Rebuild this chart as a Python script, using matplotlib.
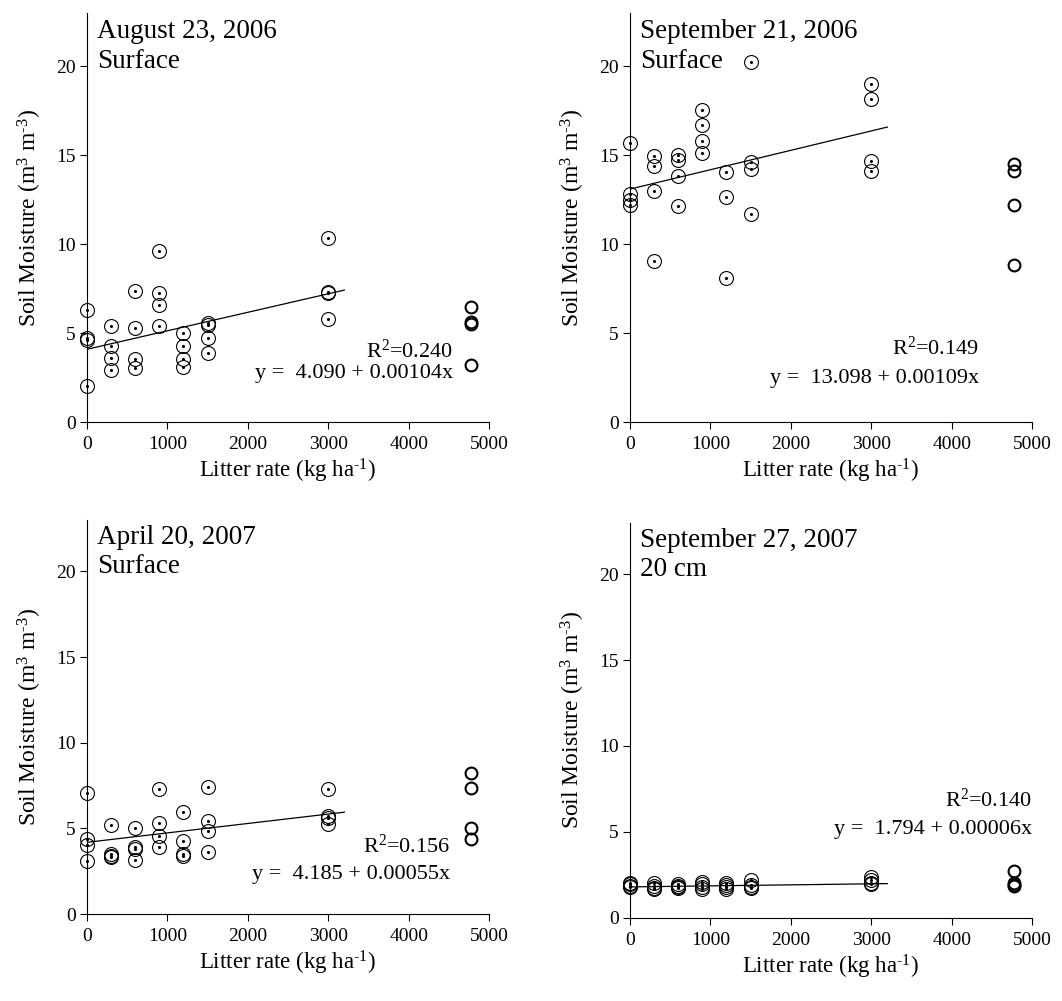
import numpy as np
import matplotlib
matplotlib.use("Agg")
import matplotlib.pyplot as plt

plt.rcParams['font.family'] = ['Liberation Serif', 'DejaVu Serif']
plt.rcParams['mathtext.fontset'] = 'custom'
plt.rcParams['mathtext.rm'] = 'Liberation Serif'
plt.rcParams['mathtext.it'] = 'Liberation Serif:italic'

# litter rates (kg/ha); the last rate is plotted as open circles
rates = [0, 300, 600, 900, 1200, 1500, 3000]
high_rate = 4770

# panel 1: August 23, 2006, surface
aug06 = [
    [6.3, 4.7, 4.6, 2.0],
    [5.4, 4.28, 3.59, 2.93],
    [7.36, 5.27, 3.53, 3.03],
    [9.61, 7.27, 6.58, 5.4],
    [4.99, 4.28, 3.53, 3.07],
    [5.55, 5.45, 4.75, 3.9],
    [10.36, 7.3, 7.25, 5.79],
]
aug06_high = [6.45, 5.64, 5.5, 3.21]

# panel 2: September 21, 2006, surface
sep06 = [
    [15.7, 12.8, 12.5, 12.2],
    [14.95, 14.39, 12.99, 9.05],
    [14.99, 14.71, 13.83, 12.15],
    [17.53, 16.69, 15.79, 15.12],
    [14.07, 12.65, 8.11],
    [20.26, 14.65, 14.24, 11.7],
    [19.03, 18.17, 14.67, 14.11],
]
sep06_high = [14.49, 14.11, 12.19, 8.82]

# panel 3: April 20, 2007, surface
apr07 = [
    [7.09, 4.37, 4.0, 3.07],
    [5.2, 3.5, 3.4, 3.35],
    [5.03, 3.94, 3.81, 3.17],
    [7.3, 5.3, 4.56, 3.94],
    [5.96, 4.27, 3.5, 3.36],
    [7.42, 5.42, 4.82, 3.61],
    [7.32, 5.73, 5.59, 5.26],
]
apr07_high = [8.21, 7.38, 5.05, 4.37]

# panel 4: September 27, 2007, 20 cm
sep07 = [
    [2.05, 1.95, 1.85, 1.8],
    [2.0, 1.85, 1.75, 1.65],
    [1.95, 1.85, 1.8, 1.75],
    [2.1, 1.95, 1.8, 1.7],
    [2.05, 1.9, 1.8, 1.7],
    [2.2, 1.9, 1.8, 1.75],
    [2.35, 2.2, 2.05, 1.95],
]
sep07_high = [2.7, 2.0, 1.9, 1.85]

titles = [("August 23, 2006", "Surface"), ("September 21, 2006", "Surface"),
          ("April 20, 2007", "Surface"), ("September 27, 2007", "20 cm")]
fits = [(4.090, 0.00104, 0.240), (13.098, 0.00109, 0.149),
        (4.185, 0.00055, 0.156), (1.794, 0.00006, 0.140)]
eq_text = ["y =  4.090 + 0.00104x", "y =  13.098 + 0.00109x",
           "y =  4.185 + 0.00055x", "y =  1.794 + 0.00006x"]
# annotation anchors (right edge x, R2 baseline y, equation baseline y)
ann_pos = [(4554, 3.6, 2.45), (4342, 3.8, 2.2), (4517, 3.56, 2.05), (5000, 6.45, 4.9)]

panels = [(aug06, aug06_high), (sep06, sep06_high), (apr07, apr07_high), (sep07, sep07_high)]
axes_rects = [[0.0819, 0.5784, 0.3786, 0.4086],
              [0.5932, 0.5784, 0.3786, 0.4086],
              [0.0819, 0.0869, 0.3786, 0.3936],
              [0.5932, 0.0832, 0.3786, 0.3946]]

xlabel = "Litter rate (kg ha$^{\u2010 1}$)".replace("\u2010 ", "\u2010")
ylabel = "Soil Moisture (m$^3$ m$^{\u20103}$)"

fig = plt.figure(figsize=(10.62, 10.01), dpi=100)

for i, (vals, high) in enumerate(panels):
    ax = fig.add_axes(axes_rects[i])
    xs = np.concatenate([[r] * len(v) for r, v in zip(rates, vals)])
    ys = np.concatenate(vals)
    ax.plot(xs, ys, 'o', ms=10, mfc='none', mec='black', mew=0.8, clip_on=False)
    ax.plot(xs, ys, '.', ms=2.5, color='black', clip_on=False)
    ax.plot([high_rate] * len(high), high, 'o', ms=8.5, mfc='none', mec='black', mew=1.5)

    a, b, r2 = fits[i]
    xl = np.array([0, 3200])
    ax.plot(xl, a + b * xl, color='black', lw=0.9)

    xr, yr2, yeq = ann_pos[i]
    ax.text(xr, yr2, "R$^2$=%.3f" % r2, ha='right', va='baseline', fontsize=16)
    ax.text(xr, yeq, eq_text[i], ha='right', va='baseline', fontsize=16)
    ax.text(120, 21.6, titles[i][0], ha='left', va='baseline', fontsize=19.5)
    ax.text(120, 19.9, titles[i][1], ha='left', va='baseline', fontsize=19.5)

    ax.set_xlim(0, 5000)
    ax.set_ylim(0, 23)
    ax.set_xticks([0, 1000, 2000, 3000, 4000, 5000])
    ax.set_yticks([0, 5, 10, 15, 20])
    for s in ['top', 'right']:
        ax.spines[s].set_visible(False)
    for s in ['left', 'bottom']:
        ax.spines[s].set_linewidth(0.8)
    ax.tick_params(direction='out', length=5, width=0.8, labelsize=14)
    ax.tick_params(axis='x', pad=5)
    ax.tick_params(axis='y', pad=3)
    ax.set_xlabel(xlabel, fontsize=16.5, labelpad=3)
    ax.set_ylabel(ylabel, fontsize=17, labelpad=9)

fig.savefig("out.png", dpi=100)
